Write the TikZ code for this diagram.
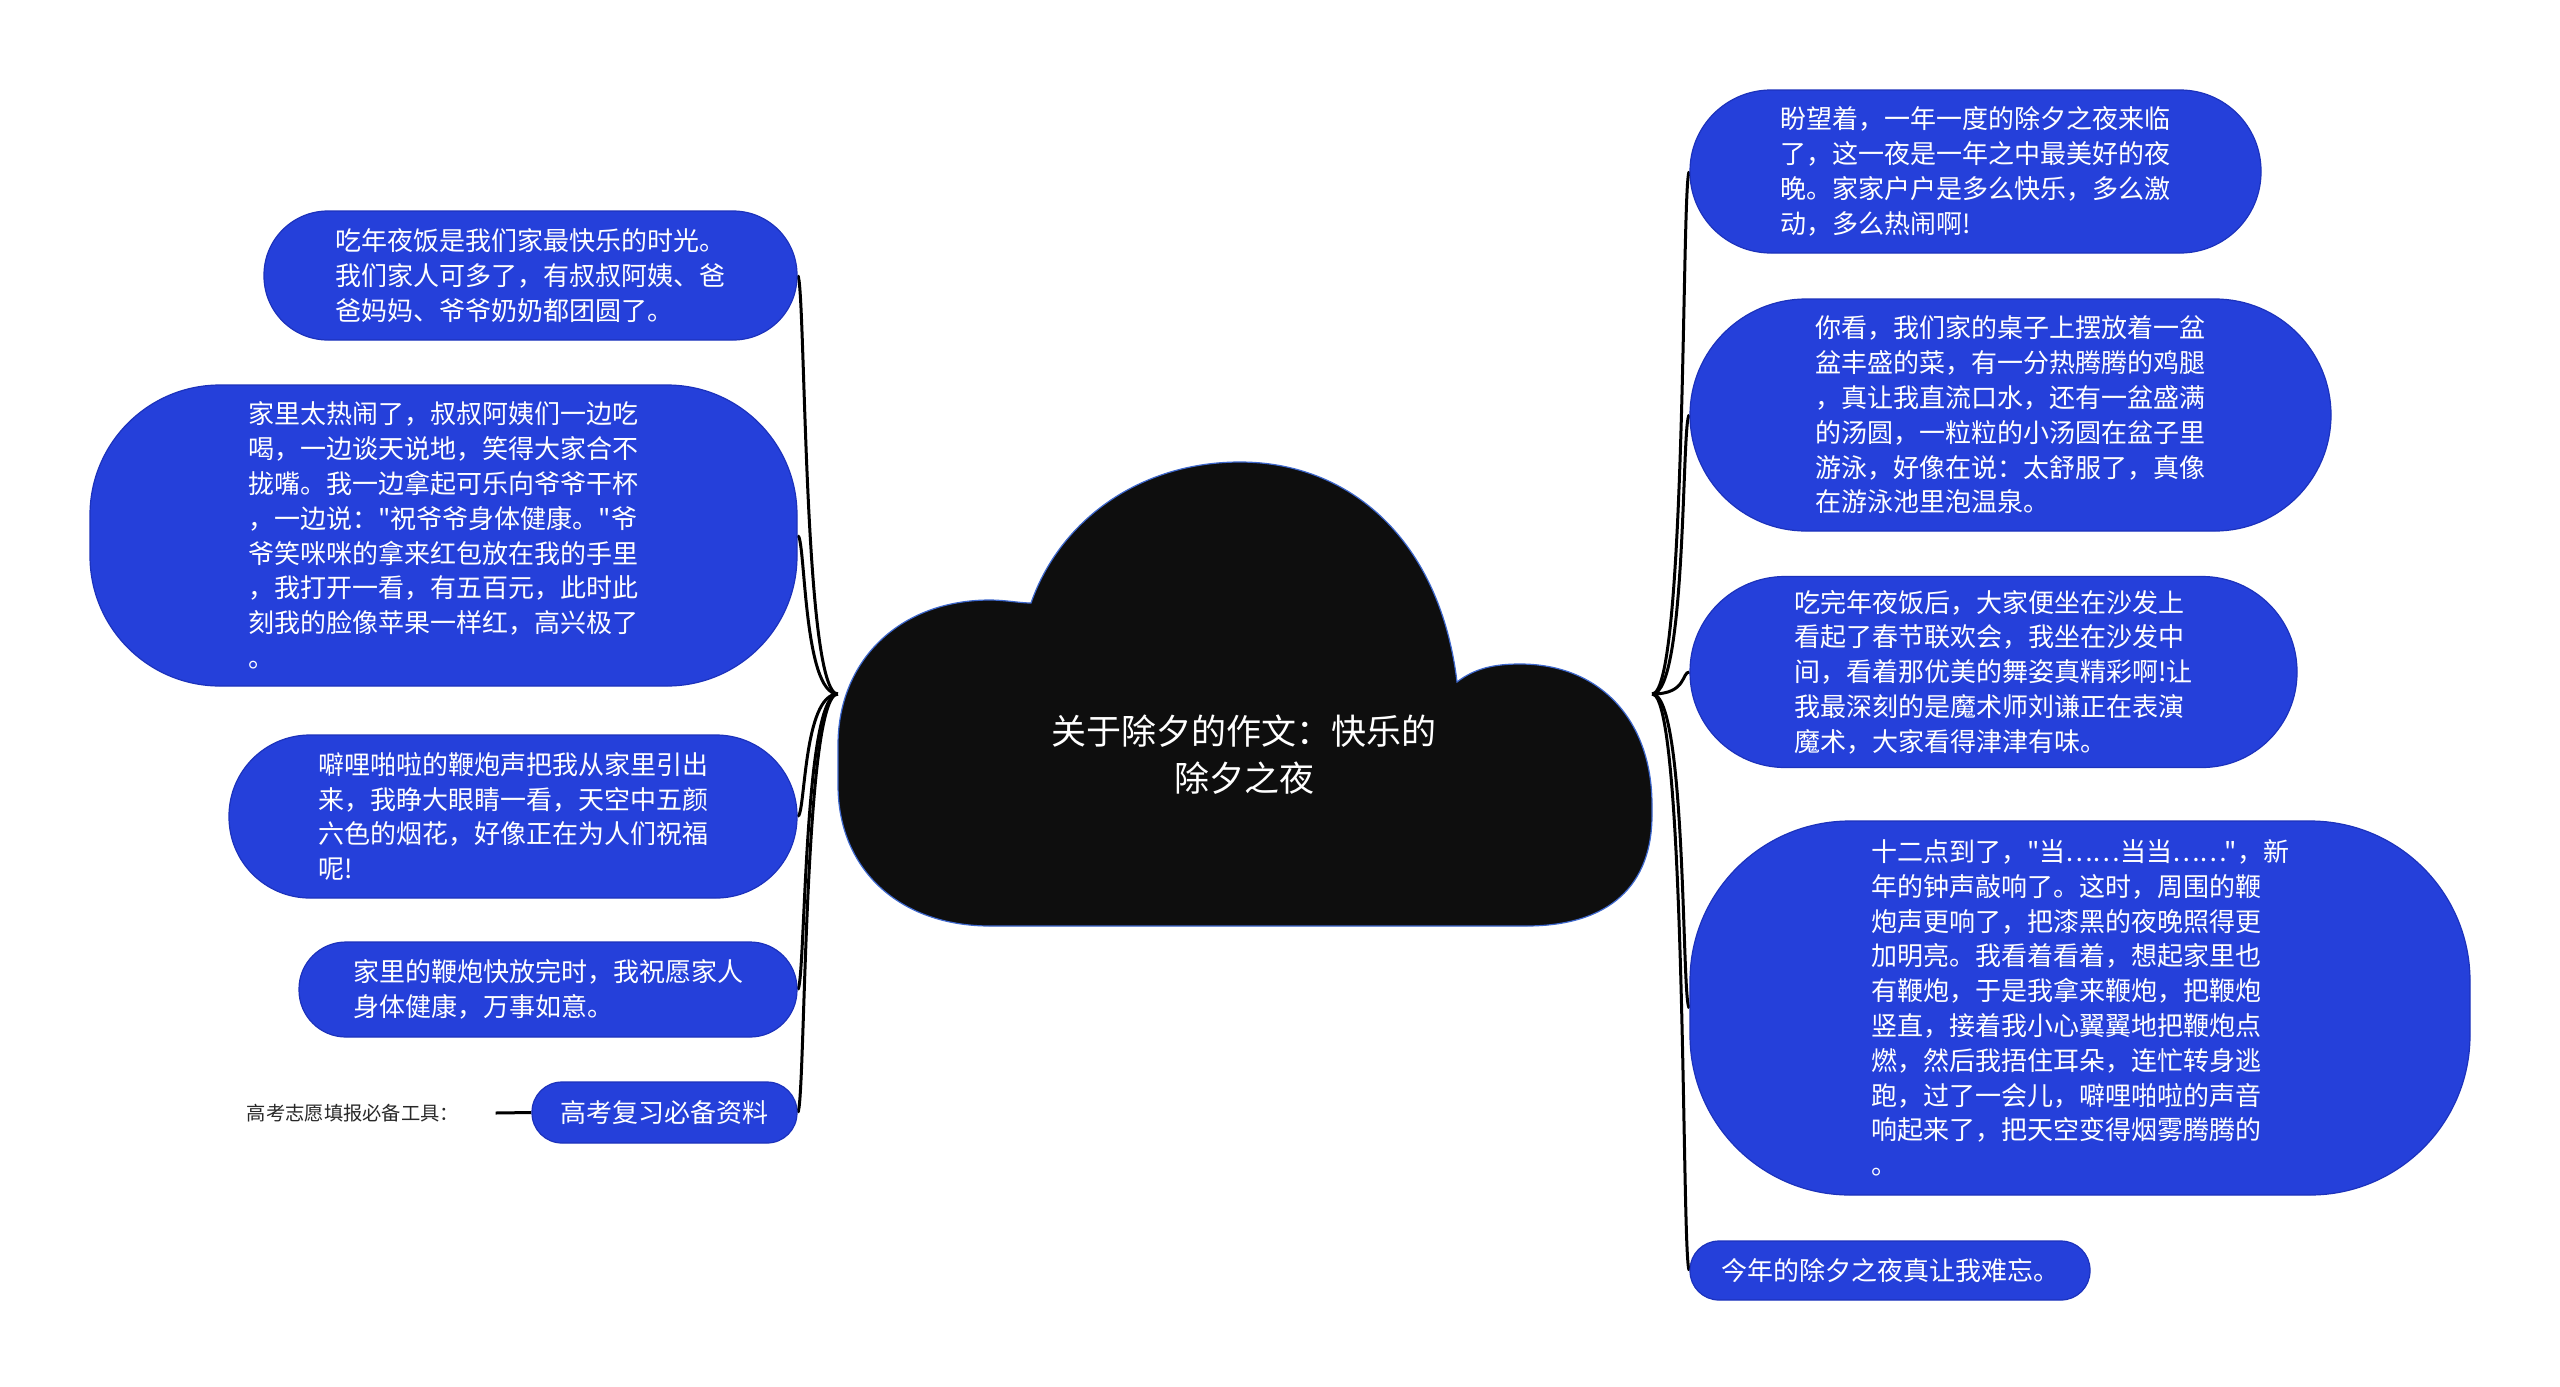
\documentclass[tikz,border=0pt]{standalone}
\usepackage{fontspec}
\setmainfont{Noto Sans CJK SC}[Ligatures=TeXOff]
\usetikzlibrary{positioning, backgrounds}
\definecolor{bubbleblue}{RGB}{37,64,218}
\definecolor{bubbleedge}{RGB}{28,50,188}
\definecolor{cloudblack}{RGB}{14,14,14}
\definecolor{cloudedge}{RGB}{62,104,205}
\definecolor{tooltext}{RGB}{40,40,40}

\begin{document}
\begin{tikzpicture}[x=1pt, y=-1pt,
        bubble/.style={rectangle, fill=bubbleblue, draw=bubbleedge, line width=1.2pt,
                       text=white, align=left, inner sep=0pt,
                       font=\fontsize{26}{34.8}\selectfont},
        rootbox/.style={rectangle, inner sep=0pt, minimum width=814, minimum height=464},
        titletext/.style={text=white, align=center, font=\fontsize{35}{47}\selectfont},
        tooltip/.style={text=tooltext, font=\fontsize{19.3}{24}\selectfont},
        link/.style={draw=black, line width=3pt}
    ]
    \useasboundingbox (0,0) rectangle (2560,1387);
    \begin{scope}[on background layer]
        \fill[white] (0,0) rectangle (2560,1387);
    \end{scope}

    % cloud in the middle
    \filldraw[fill=cloudblack, draw=cloudedge, line width=1.2pt]
        (1031,603) .. controls (1060,520) and (1140,462) .. (1240,462)
        .. controls (1350,462) and (1440,540) .. (1457,682)
        .. controls (1475,668) and (1495,664) .. (1520,664)
        .. controls (1600,664) and (1652,720) .. (1652,805)
        -- (1652,815)
        .. controls (1652,885) and (1610,926) .. (1526,926)
        -- (990,926)
        .. controls (900,926) and (838,870) .. (838,785)
        -- (838,745)
        .. controls (838,660) and (900,600) .. (990,600)
        .. controls (1005,600) and (1020,603) .. (1031,603) -- cycle;
    \node[rootbox] (root) at (1245,694) {};
    \node[titletext] (title) at (1244,755) {关于除夕的作文：快乐的\\除夕之夜};

    % left side
    \node[bubble, minimum width=533, minimum height=129, rounded corners=64] (eat) at (530.5,275.5)
        {吃年夜饭是我们家最快乐的时光。\\我们家人可多了，有叔叔阿姨、爸\\爸妈妈、爷爷奶奶都团圆了。};
    \node[bubble, minimum width=707, minimum height=301, rounded corners=130] (toast) at (443.5,535.5)
        {家里太热闹了，叔叔阿姨们一边吃\\喝，一边谈天说地，笑得大家合不\\拢嘴。我一边拿起可乐向爷爷干杯\\，一边说："祝爷爷身体健康。"爷\\爷笑咪咪的拿来红包放在我的手里\\，我打开一看，有五百元，此时此\\刻我的脸像苹果一样红，高兴极了\\。};
    \node[bubble, minimum width=568, minimum height=163, rounded corners=81] (fireworks) at (513,816.5)
        {噼哩啪啦的鞭炮声把我从家里引出\\来，我睁大眼睛一看，天空中五颜\\六色的烟花，好像正在为人们祝福\\呢!};
    \node[bubble, minimum width=498, minimum height=95, rounded corners=47] (wish) at (548,989.5)
        {家里的鞭炮快放完时，我祝愿家人\\身体健康，万事如意。};
    \node[bubble, minimum width=265, minimum height=61, rounded corners=30] (review) at (664.5,1112.5)
        {高考复习必备资料};
    \node[tooltip] (tool) at (353,1113) {高考志愿填报必备工具：};

    % right side
    \node[bubble, minimum width=571, minimum height=163, rounded corners=81] (hope) at (1975.5,171.5)
        {盼望着，一年一度的除夕之夜来临\\了，这一夜是一年之中最美好的夜\\晚。家家户户是多么快乐，多么激\\动，多么热闹啊!};
    \node[bubble, minimum width=641, minimum height=232, rounded corners=116] (table) at (2010.5,415)
        {你看，我们家的桌子上摆放着一盆\\盆丰盛的菜，有一分热腾腾的鸡腿\\，真让我直流口水，还有一盆盛满\\的汤圆，一粒粒的小汤圆在盆子里\\游泳，好像在说：太舒服了，真像\\在游泳池里泡温泉。};
    \node[bubble, minimum width=607, minimum height=191, rounded corners=95] (gala) at (1993.5,672)
        {吃完年夜饭后，大家便坐在沙发上\\看起了春节联欢会，我坐在沙发中\\间，看着那优美的舞姿真精彩啊!让\\我最深刻的是魔术师刘谦正在表演\\魔术，大家看得津津有味。};
    \node[bubble, minimum width=780, minimum height=374, rounded corners=160] (midnight) at (2080,1008)
        {十二点到了，"当……当当……"，新\\年的钟声敲响了。这时，周围的鞭\\炮声更响了，把漆黑的夜晚照得更\\加明亮。我看着看着，想起家里也\\有鞭炮，于是我拿来鞭炮，把鞭炮\\竖直，接着我小心翼翼地把鞭炮点\\燃，然后我捂住耳朵，连忙转身逃\\跑，过了一会儿，噼哩啪啦的声音\\响起来了，把天空变得烟雾腾腾的\\。};
    \node[bubble, minimum width=400, minimum height=59, rounded corners=29] (memory) at (1890,1270.5)
        {今年的除夕之夜真让我难忘。};

    % connectors
    \begin{scope}[on background layer]
        \foreach \n in {eat,toast,fireworks,wish,review}
            \draw[link] (root.west) .. controls +(-35,0) and +(8,0) .. (\n.east);
        \foreach \n in {hope,table,gala,midnight,memory}
            \draw[link] (root.east) .. controls +(35,0) and +(-8,0) .. (\n.west);
        \draw[link] ([xshift=33]tool.east) -- (review.west);
    \end{scope}
\end{tikzpicture}
\end{document}
